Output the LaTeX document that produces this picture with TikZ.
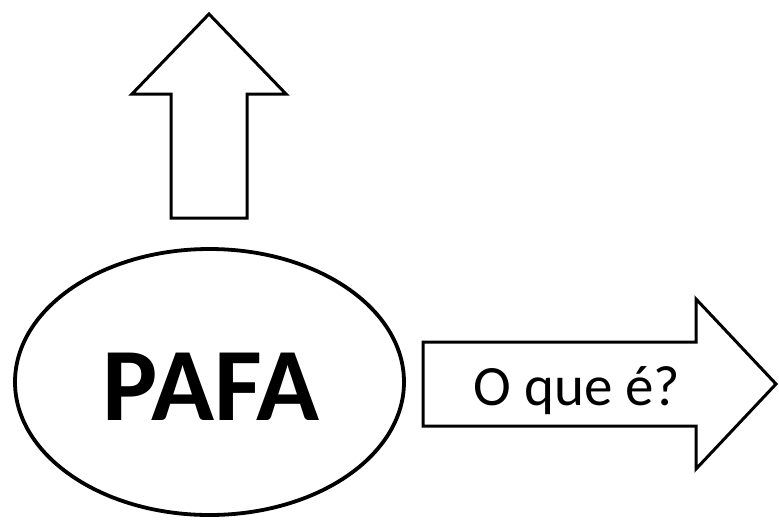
\documentclass[tikz,border=0pt]{standalone}
\usepackage{fontspec}
\setmainfont{Carlito}
\usetikzlibrary{shapes.geometric}
\tikzset{
  outline/.style={draw=black, line width=3pt, line join=miter, fill=white},
  oval/.style={ellipse, draw=black, line width=3.8pt, inner sep=0pt},
}
\begin{document}
\begin{tikzpicture}[x=1pt,y=-1pt]
\useasboundingbox (0,0) rectangle (779,520);
% upward arrow
\draw[outline] (171,218) -- (171,94) -- (132,94) -- (209,14) -- (286,94) -- (247,94) -- (247,218) -- cycle;
% right arrow
\draw[outline] (423,342) -- (696,342) -- (696,299) -- (776,384) -- (696,469) -- (696,426) -- (423,426) -- cycle;
% ellipse
\node[oval, minimum width=389pt, minimum height=266pt] (pafa) at (209.5,382) {};
\node[font=\fontsize{104}{104}\selectfont\bfseries, anchor=base] (pafaText) at (211,420) {PAFA};
\node[font=\fontsize{57}{57}\selectfont, anchor=base] (oque) at (577,405) {O que é?};
\end{tikzpicture}
\end{document}
